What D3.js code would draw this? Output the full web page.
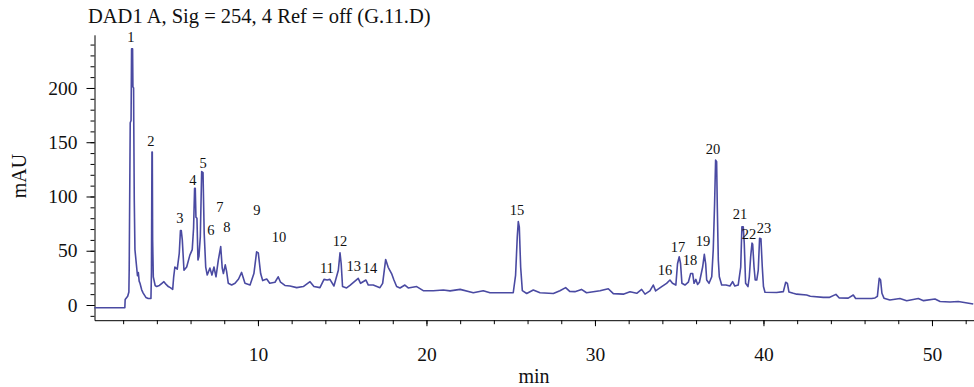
<!DOCTYPE html>
<html>
<head>
<meta charset="utf-8">
<script src="https://cdn.jsdelivr.net/npm/d3@7"></script>
<style>
  body { margin: 0; background: #fff; }
  svg { display: block; font-family: "Liberation Serif", "DejaVu Serif", serif; }
  .axis path, .axis line { stroke: #000; stroke-width: 1; }
  .axis text { font-size: 19.5px; fill: #111; font-family: "Liberation Serif", serif; }
</style>
</head>
<body>
<svg id="chart" width="974" height="387"></svg>
<script>
// chromatogram trace: [time (min), signal (mAU)]
const trace = [
  [0.29,-2.5],[2.1,-2.5],[2.12,5],[2.27,8],[2.34,12],[2.36,34],[2.42,168],[2.47,170],[2.5,236],[2.56,236],
  [2.58,201],[2.62,200],[2.63,169],[2.66,97],[2.7,51],[2.8,35],[2.85,27],[2.9,30],[2.95,22],[3.0,20],
  [3.1,14],[3.19,11],[3.35,7],[3.49,6],[3.65,6],[3.68,30],[3.71,141],[3.73,141],[3.75,60],[3.79,26],
  [3.9,18],[3.99,17],[4.15,18],[4.3,20],[4.42,21.5],[4.55,19],[4.68,17],[4.8,16],[4.94,14.4],[5.0,26],
  [5.07,35],[5.21,33],[5.33,47.6],[5.4,68.5],[5.45,68.5],[5.51,60],[5.61,32],[5.77,35],[5.96,46],[6.1,51],
  [6.18,71],[6.24,107.5],[6.28,107.5],[6.32,81],[6.38,80],[6.44,41.5],[6.5,45],[6.58,63],[6.66,123],[6.74,122],
  [6.81,66],[6.9,35],[6.99,27.6],[7.15,34],[7.27,27.6],[7.39,35],[7.51,26],[7.65,41.5],[7.79,53.8],[7.88,34],
  [7.95,29],[8.06,37],[8.14,31],[8.24,20],[8.44,18.5],[8.64,20],[8.85,24],[9.03,30],[9.23,20],[9.53,18.5],
  [9.76,29],[9.92,49],[10.02,48],[10.16,29],[10.28,22.5],[10.52,24],[10.7,20],[11.01,21],[11.2,26],[11.34,21],
  [11.6,18],[11.9,17.5],[12.3,16],[12.69,17],[13.09,21.5],[13.32,17],[13.68,16],[13.92,23.6],[14.11,23],[14.27,23.6],
  [14.51,17.5],[14.77,32],[14.87,48],[14.94,38],[15.02,17],[15.26,15.7],[15.46,18],[15.95,24.6],[16.09,20],[16.41,23],
  [16.55,18.4],[16.84,18.4],[17.24,16],[17.4,20],[17.58,42],[17.73,34.7],[17.93,29],[18.07,23],[18.23,17],[18.43,15.7],
  [18.72,18.4],[18.92,15.7],[19.42,17],[19.81,13.2],[20.4,13.2],[21.0,13.8],[21.4,13],[22.0,14.4],[22.78,11.3],[23.37,13.2],
  [23.77,11.3],[24.56,11.3],[25.15,11.3],[25.29,27.6],[25.39,63],[25.45,76.8],[25.51,72],[25.59,35],[25.69,13.2],[25.95,10.6],
  [26.34,13.8],[26.74,11.3],[27.53,10.6],[27.92,13.2],[28.26,16],[28.5,12.5],[28.81,12.3],[29.2,14.4],[29.5,11.3],[30.3,13.2],
  [30.79,15],[31.09,10.5],[31.68,10],[32.08,12.3],[32.48,10.8],[32.77,14.4],[32.97,10],[33.26,13],[33.46,18.4],[33.6,13],
  [33.96,16.9],[34.25,20],[34.45,23],[34.6,20],[34.8,18.4],[34.9,38],[35.0,44.5],[35.08,38],[35.16,20],[35.34,18.4],
  [35.54,21],[35.68,29],[35.8,29],[35.88,20],[35.99,23.6],[36.09,19],[36.2,21],[36.39,35],[36.49,46.7],[36.57,38],
  [36.63,23],[36.77,20],[36.93,26],[37.02,51],[37.1,93.7],[37.16,133.6],[37.22,132],[37.26,90.6],[37.32,41.5],[37.38,26],
  [37.52,18.4],[37.77,18.4],[38.01,17.5],[38.17,21.5],[38.3,17.5],[38.5,18.4],[38.65,35],[38.72,72],[38.8,72],[38.86,57],
  [38.94,20],[39.08,17],[39.16,26],[39.24,44.5],[39.32,57],[39.36,56],[39.44,35],[39.51,23],[39.6,23],[39.69,32],
  [39.77,61.5],[39.85,61],[39.93,35],[40.0,17],[40.09,11.7],[40.78,11.5],[41.18,12.3],[41.32,21],[41.42,20],[41.51,12],
  [41.77,10.8],[41.97,10],[42.56,9.2],[42.78,8],[43.55,7],[43.9,7],[44.3,9.8],[44.5,6.5],[45.03,6.3],[45.33,9.2],
  [45.47,6],[45.92,6],[46.42,6],[46.62,6.5],[46.76,8],[46.87,24.6],[46.95,23],[47.03,10.8],[47.15,6.3],[47.5,4.6],
  [48.1,6],[48.5,4],[49.19,6],[49.5,4],[50.18,5.5],[50.48,3.3],[51.07,2.8],[51.56,3.3],[52.45,0.9]
];

// peak numbers and where their labels sit (time, mAU at the label baseline)
const peakNames = ['1','2','3','4','5','6','7','8','9','10','11','12','13','14','15','16','17','18','19','20','21','22','23'];
const peakTimes = [2.46,3.65,5.37,6.14,6.74,7.21,7.74,8.16,9.94,11.25,14.09,14.87,15.69,16.65,25.37,34.15,34.93,35.64,36.41,37.0,38.6,39.14,40.03];
const peakLabelVals = [242,146.5,75.6,110.6,126,64.5,85.7,67.3,83,58,29.5,54.4,31.3,29.5,83,27.6,48.8,36.9,54.4,139.2,79.3,60.8,66.4];

const yMajor = [0, 50, 100, 150, 200];
const yMinor = d3.range(-10, 250, 10);
const xMajor = [10, 20, 30, 40, 50];
const xMinor = d3.range(2, 53, 2);

const svg = d3.select('#chart');

const x = d3.scaleLinear().domain([0.3, 52.5]).range([94.5, 974.1]);
const y = d3.scaleLinear().domain([-14, 249]).range([320.2, 34.8]);

// title
svg.append('text')
  .attr('x', 88)
  .attr('y', 23)
  .attr('font-size', 20.5)
  .attr('fill', '#111')
  .text('DAD1 A, Sig = 254, 4 Ref = off (G.11.D)');

// y axis
svg.append('g')
  .attr('class', 'axis')
  .attr('transform', `translate(${x(0.3)},0)`)
  .call(d3.axisLeft(y).tickValues(yMinor).tickSize(4).tickSizeOuter(0).tickFormat(''));
svg.append('g')
  .attr('class', 'axis')
  .attr('transform', `translate(${x(0.3)},0)`)
  .call(d3.axisLeft(y).tickValues(yMajor).tickSize(8).tickSizeOuter(0).tickPadding(9))
  .call((g) => g.select('.domain').remove());

// x axis
svg.append('g')
  .attr('class', 'axis')
  .attr('transform', `translate(0,${y(-14)})`)
  .call(d3.axisBottom(x).tickValues(xMinor).tickSize(4).tickSizeOuter(0).tickFormat(''));
svg.append('g')
  .attr('class', 'axis')
  .attr('transform', `translate(0,${y(-14)})`)
  .call(d3.axisBottom(x).tickValues(xMajor).tickSize(6).tickSizeOuter(0).tickPadding(21))
  .call((g) => g.select('.domain').remove());

// axis titles
svg.append('text')
  .attr('transform', 'translate(26,176) rotate(-90)')
  .attr('text-anchor', 'middle')
  .attr('font-size', 20)
  .attr('fill', '#111')
  .text('mAU');

svg.append('text')
  .attr('x', 534)
  .attr('y', 383)
  .attr('text-anchor', 'middle')
  .attr('font-size', 20)
  .attr('fill', '#111')
  .text('min');

// trace
const line = d3.line()
  .x((d) => x(d[0]))
  .y((d) => y(d[1]));

svg.append('path')
  .datum(trace)
  .attr('fill', 'none')
  .attr('stroke', '#4a4aa2')
  .attr('stroke-width', 1.6)
  .attr('stroke-linejoin', 'round')
  .attr('d', line);

// peak numbers
svg.append('g')
  .selectAll('text')
  .data(peakNames)
  .enter()
  .append('text')
  .attr('x', (d, i) => x(peakTimes[i]))
  .attr('y', (d, i) => y(peakLabelVals[i]))
  .attr('text-anchor', 'middle')
  .attr('font-size', 14.5)
  .attr('fill', '#111')
  .text((d) => d);
</script>
</body>
</html>
